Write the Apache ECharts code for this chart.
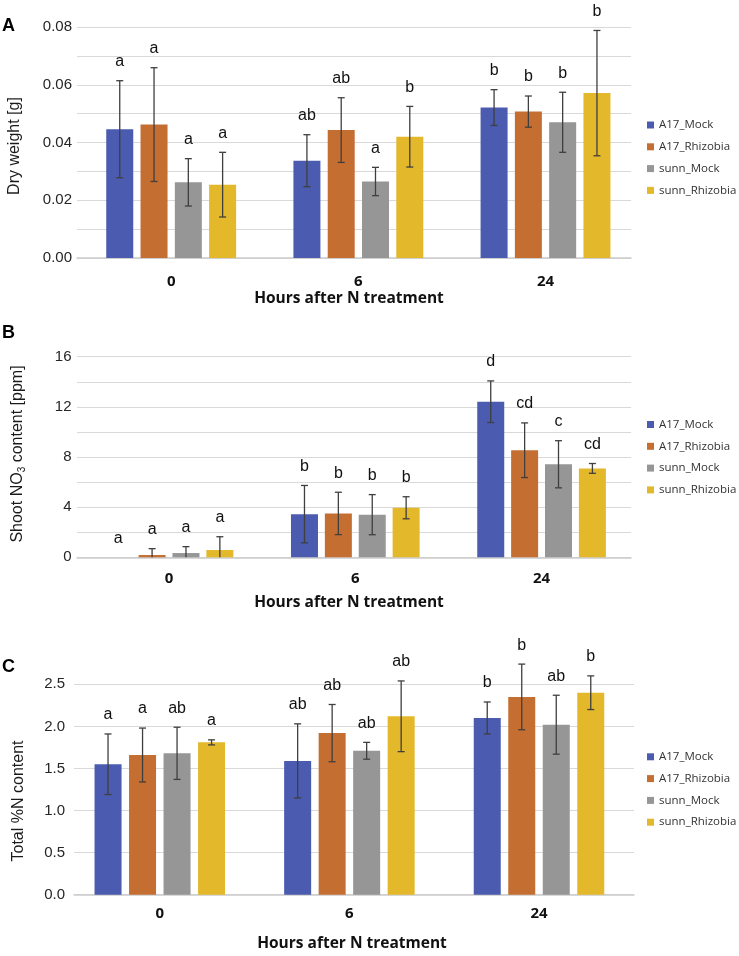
<!DOCTYPE html>
<html><head><meta charset="utf-8">
<script src="https://cdn.jsdelivr.net/npm/echarts@6/dist/echarts.min.js"></script>
<style>html,body{margin:0;padding:0;background:#fff}#c{width:739px;height:956px}</style>
</head><body><div id="c"></div>
<script>
// ---------- DATA ----------
const categories = ['0', '6', '24'];
const seriesNames = ['A17_Mock', 'A17_Rhizobia', 'sunn_Mock', 'sunn_Rhizobia'];

// Panel A: dry weight [g]; rows = series (order of seriesNames), cols = categories
const dryMeans = [
  [0.0446, 0.0337, 0.0521],
  [0.0462, 0.0443, 0.0507],
  [0.0262, 0.0265, 0.0470],
  [0.0254, 0.0420, 0.0571]
];
const dryErr = [
  [0.0168, 0.0090, 0.0062],
  [0.0197, 0.0112, 0.0054],
  [0.0082, 0.0049, 0.0104],
  [0.0112, 0.0105, 0.0217]
];
const dryLetters = [
  ['a', 'ab', 'b'],
  ['a', 'ab', 'b'],
  ['a', 'a', 'b'],
  ['a', 'b', 'b']
];
const dryTicks = ['0.00', '0.02', '0.04', '0.06', '0.08'];

// Panel B: shoot NO3 content [ppm]
const no3Means = [
  [0, 3.44, 12.41],
  [0.18, 3.50, 8.54],
  [0.34, 3.40, 7.42],
  [0.58, 3.95, 7.09]
];
const no3Err = [
  [0, 2.29, 1.66],
  [0.51, 1.69, 2.18],
  [0.51, 1.60, 1.88],
  [1.06, 0.88, 0.39]
];
const no3Letters = [
  ['a', 'b', 'd'],
  ['a', 'b', 'cd'],
  ['a', 'b', 'c'],
  ['a', 'b', 'cd']
];
const no3Ticks = ['0', '4', '8', '12', '16'];

// Panel C: total %N content
const nMeans = [
  [1.55, 1.59, 2.10],
  [1.66, 1.92, 2.35],
  [1.68, 1.71, 2.02],
  [1.81, 2.12, 2.40]
];
const nErr = [
  [0.36, 0.44, 0.19],
  [0.32, 0.34, 0.39],
  [0.31, 0.10, 0.35],
  [0.03, 0.42, 0.20]
];
const nLetters = [
  ['a', 'ab', 'b'],
  ['a', 'ab', 'b'],
  ['ab', 'ab', 'ab'],
  ['a', 'ab', 'b']
];
const nTicks = ['0.0', '0.5', '1.0', '1.5', '2.0', '2.5'];

// ---------- STYLE / LAYOUT ----------
const colors = ['#4a5bb0', '#c56e32', '#969696', '#e4b82b'];
const FONT = 'Liberation Sans, Arial, sans-serif';
const FONT2 = 'Open Sans, sans-serif';
const barW = 27;

const panels = [
  { means: dryMeans, err: dryErr, letters: dryLetters, ticks: dryTicks,
    min: 0, max: 0.08, interval: 0.02, minor: true,
    plot: { left: 77, top: 27, width: 554, height: 231 },
    bars: { left: 77.6, width: 561.5 }, gap: 27, labelMargin: 16, tickMargin: 5,
    tag: 'A', tagY: 26, yTitle: 'Dry weight [g]', yTitleX: 15, yTitleY: 146,
    xTitleX: 349, xTitleY: 299, legendTop: 119 },
  { means: no3Means, err: no3Err, letters: no3Letters, ticks: no3Ticks,
    min: 0, max: 16, interval: 4, minor: true,
    plot: { left: 77, top: 356.7, width: 554, height: 200.6 },
    bars: { left: 75.9, width: 558.8 }, gap: 25.5, labelMargin: 14, tickMargin: 5.5,
    tag: 'B', tagY: 333, yTitle: 'Shoot NO{sub|3} content [ppm]', yTitleX: 18, yTitleY: 454,
    xTitleX: 349, xTitleY: 603, legendTop: 418.5 },
  { means: nMeans, err: nErr, letters: nLetters, ticks: nTicks,
    min: 0, max: 2.5, interval: 0.5, minor: false,
    plot: { left: 74, top: 684.3, width: 560, height: 210.4 },
    bars: { left: 65, width: 568.8 }, gap: 27.8, labelMargin: 12, tickMargin: 9,
    tag: 'C', tagY: 667, yTitle: 'Total %N content', yTitleX: 19, yTitleY: 801,
    xTitleX: 352, xTitleY: 944, legendTop: 750.8 }
];

const grid = [], xAxis = [], yAxis = [], series = [], legend = [], graphic = [];

panels.forEach((p, pi) => {
  const gP = 2 * pi, gB = 2 * pi + 1;
  grid.push({ left: p.plot.left, top: p.plot.top, width: p.plot.width, height: p.plot.height });
  grid.push({ left: p.bars.left, top: p.plot.top, width: p.bars.width, height: p.plot.height });

  xAxis.push({ gridIndex: gP, type: 'category', data: categories,
    axisLine: { lineStyle: { color: '#cccccc', width: 1.5 } },
    axisTick: { show: false }, axisLabel: { show: false }, splitLine: { show: false } });
  xAxis.push({ gridIndex: gB, type: 'category', data: categories,
    axisLine: { show: false }, axisTick: { show: false }, splitLine: { show: false },
    axisLabel: { margin: p.labelMargin, fontSize: 15, fontWeight: 'bold', fontFamily: FONT2, color: '#111' } });

  yAxis.push({ gridIndex: gP, type: 'value', min: p.min, max: p.max, interval: p.interval,
    axisLine: { show: false }, axisTick: { show: false },
    axisLabel: { margin: p.tickMargin, fontSize: 15, fontFamily: FONT, color: '#262626',
      formatter: v => p.ticks[Math.round((v - p.min) / p.interval)] },
    splitLine: { lineStyle: { color: '#d9d9d9', width: 1 } },
    minorTick: { show: false, splitNumber: 2 },
    minorSplitLine: { show: p.minor, lineStyle: { color: '#d9d9d9', width: 1 } } });
  yAxis.push({ gridIndex: gB, type: 'value', min: p.min, max: p.max, show: false });

  seriesNames.forEach((name, s) => {
    series.push({ type: 'bar', name, xAxisIndex: gB, yAxisIndex: gB,
      data: p.means[s], barWidth: barW, barGap: p.gap + '%',
      itemStyle: { color: colors[s] }, silent: true });
  });

  const data = [];
  for (let s = 0; s < 4; s++) for (let c = 0; c < 3; c++) data.push([c, p.means[s][c], p.err[s][c], s]);
  const pitch = barW * (1 + p.gap / 100);
  series.push({ type: 'custom', name: 'err' + pi, xAxisIndex: gB, yAxisIndex: gB, z: 5, silent: true,
    encode: { x: 0, y: 1 }, data,
    renderItem(params, api) {
      const c = api.value(0), m = api.value(1), e = api.value(2), s = api.value(3);
      const base = api.coord([c, m]);
      const x = base[0] + (s - 1.5) * pitch;
      const st = { stroke: '#3f3f3f', lineWidth: 1.3 };
      const children = [];
      let topY = base[1];
      if (e > 0) {
        const hi = api.coord([c, m + e])[1];
        const lo = api.coord([c, Math.max(m - e, p.min)])[1];
        children.push({ type: 'line', shape: { x1: x, y1: hi, x2: x, y2: lo }, style: st });
        children.push({ type: 'line', shape: { x1: x - 3.5, y1: hi, x2: x + 3.5, y2: hi }, style: st });
        if (m - e > p.min) children.push({ type: 'line', shape: { x1: x - 3.5, y1: lo, x2: x + 3.5, y2: lo }, style: st });
        topY = hi;
      }
      children.push({ type: 'text', x: x, y: topY - 19,
        style: { text: p.letters[s][c], fontSize: 16, fontFamily: FONT, fill: '#111', align: 'center', verticalAlign: 'middle' } });
      return { type: 'group', children };
    } });

  legend.push({ left: 647, top: p.legendTop, orient: 'vertical', itemWidth: 7, itemHeight: 7, itemGap: 9.8,
    icon: 'rect', selectedMode: false, data: seriesNames, padding: 0,
    textStyle: { fontSize: 11.5, fontFamily: FONT2, color: '#333', overflow: 'none' } });

  graphic.push({ type: 'text', x: 2, y: p.tagY,
    style: { text: p.tag, fontSize: 18, fontWeight: 'bold', fontFamily: FONT, fill: '#000', verticalAlign: 'middle' } });
  graphic.push({ type: 'text', x: p.yTitleX, y: p.yTitleY, rotation: Math.PI / 2,
    style: { text: p.yTitle, fontSize: 16, fontFamily: FONT, fill: '#1a1a1a', align: 'center', verticalAlign: 'middle',
      rich: { sub: { fontSize: 10, fontFamily: FONT, fill: '#1a1a1a', padding: [9, 0, 0, 0], verticalAlign: 'top' } } } });
  graphic.push({ type: 'text', x: p.xTitleX, y: p.xTitleY,
    style: { text: 'Hours after N treatment', fontSize: 15.5, fontWeight: 'bold', fontFamily: FONT2, fill: '#111', align: 'center', verticalAlign: 'middle' } });
});

const chart = echarts.init(document.getElementById('c'), null, { renderer: 'canvas' });
chart.setOption({ animation: false, backgroundColor: '#fff', grid, xAxis, yAxis, series, legend, graphic });
</script>
</body></html>
